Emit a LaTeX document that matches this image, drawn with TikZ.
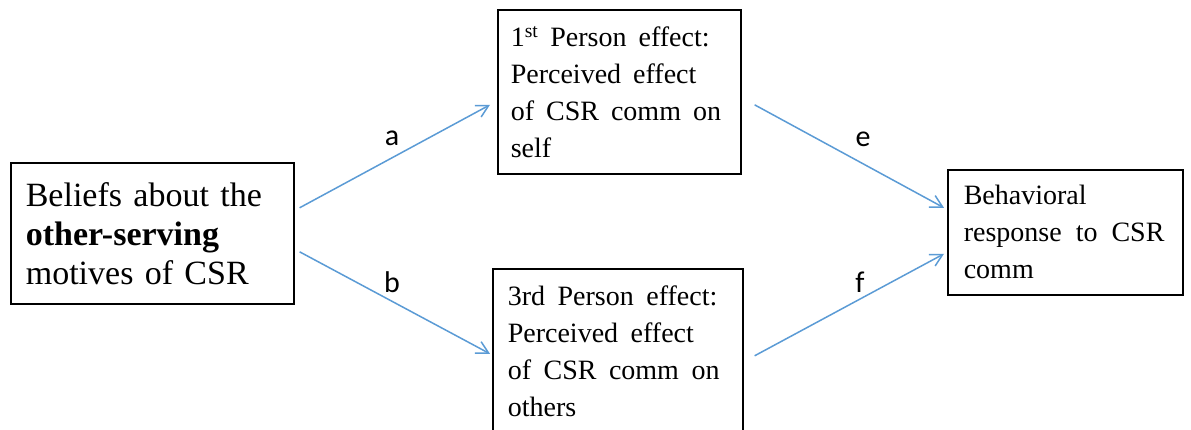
\documentclass[tikz,border=0pt]{standalone}
\usepackage{fontspec}
\setmainfont{Liberation Serif}
\newfontfamily\labelfont{Carlito}
\usetikzlibrary{arrows.meta}
\definecolor{arrowblue}{HTML}{5B9BD5}
\begin{document}
\begin{tikzpicture}[x=1pt,y=-1pt,
  box/.style={draw=black, line width=1.6pt, rectangle, anchor=north west, inner ysep=0pt, align=left},
  midtext/.style={font=\fontsize{28}{37}\selectfont},
  conn/.style={draw=arrowblue, line width=1.5pt, -{Straight Barb[length=12pt,width=13pt,line width=1.5pt]}},
  lab/.style={font=\labelfont\fontsize{30}{36}\selectfont, anchor=base, inner sep=0pt}]
\useasboundingbox (0,0) rectangle (1191,429);

\node[box, minimum width=283, minimum height=141, text width=253, inner xsep=15,
      font=\fontsize{34}{39}\selectfont] (L) at (10,162)
  {Beliefs about the\\ \textbf{other-serving}\\ motives of CSR};

\node[box, midtext, minimum width=243, minimum height=164, text width=217, inner xsep=13] (T) at (497,9)
  {\spaceskip=12pt\relax 1\textsuperscript{st} Person effect:\\ Perceived effect\\ of CSR comm on\\ self};

\node[box, midtext, minimum width=250, minimum height=164, text width=220, inner xsep=15] (B) at (492,268)
  {\spaceskip=12.5pt\relax 3rd Person effect:\\ Perceived effect\\ of CSR comm on\\ others};

\node[box, midtext, minimum width=235, minimum height=125, text width=203, inner xsep=16] (R) at (947,169)
  {\spaceskip=14pt\relax Behavioral\\ response to CSR\\ comm};

\draw[conn] ([shift={(5,-25.5)}]L.east) -- ([shift={(-7,13)}]T.west);
\draw[conn] ([shift={(5,18.5)}]L.east) -- ([shift={(-2,3)}]B.west);
\draw[conn] ([shift={(13,13)}]T.east) -- ([shift={(-3,-24.5)}]R.west);
\draw[conn] ([shift={(11,5)}]B.east) -- ([shift={(-3,21.5)}]R.west);

\node[lab] (la) at (392,145) {a};
\node[lab] (lb) at (392,292) {b};
\node[lab] (le) at (863,146) {e};
\node[lab] (lf) at (860,292) {f};
\end{tikzpicture}
\end{document}
